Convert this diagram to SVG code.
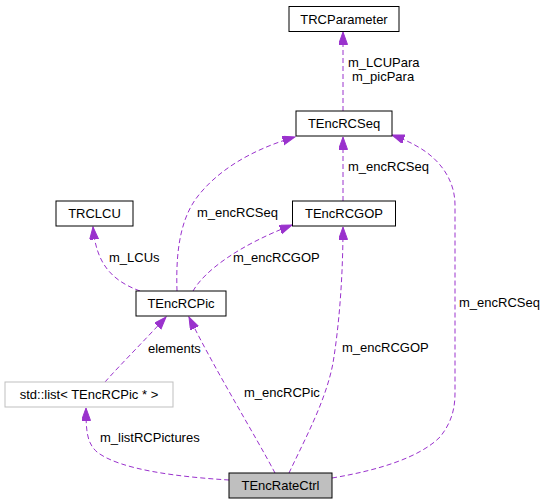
<svg xmlns="http://www.w3.org/2000/svg" width="547" height="504" viewBox="0 0 547 504">
<defs>
<style>
text{font-family:"Liberation Sans",Arial,sans-serif;font-size:13px;fill:#000}
.n{text-anchor:middle}
.box{fill:#fff;stroke:#000;stroke-width:1}
.e{fill:none;stroke:#9a32cd;stroke-width:1;stroke-dasharray:5,3;marker-end:url(#ah)}
</style>
<marker id="ah" markerUnits="userSpaceOnUse" markerWidth="14" markerHeight="11" refX="12.5" refY="4.5" orient="auto">
<path d="M0,0 L12.5,4.5 L0,9 z" fill="#9a32cd" stroke="#9a32cd"/>
</marker>
</defs>
<rect width="547" height="504" fill="#fff"/>
<g id="edges">
<path class="e" d="M343,111 L343,32"/>
<path class="e" d="M343,201 L343,137"/>
<path class="e" d="M177,291 C176,260 178,225 195,200 C215,172 250,150 295,137"/>
<path class="e" d="M193,291 C205,270 240,245 292,225"/>
<path class="e" d="M140,291 C110,280 96,262 93,227"/>
<path class="e" d="M105,382 C120,365 145,340 166,317"/>
<path class="e" d="M275,473 C255,435 215,370 189,317"/>
<path class="e" d="M289,473 C306,437 326,400 333,363 C340,320 343,270 343,227"/>
<path class="e" d="M332,478 C380,470 420,457 440,437 C452,422 455,408 455,393 L455,205 C455,180 440,160 420,148 C410,142 403,139 392,135"/>
<path class="e" d="M229,480 C180,477 120,470 97,452 C87,443 86,432 86,408"/>
</g>
<g id="labels">
<text x="348" y="67">m_LCUPara</text>
<text x="352" y="81">m_picPara</text>
<text x="348" y="171">m_encRCSeq</text>
<text x="197" y="217">m_encRCSeq</text>
<text x="233" y="262">m_encRCGOP</text>
<text x="109" y="262">m_LCUs</text>
<text x="148" y="353">elements</text>
<text x="244" y="397">m_encRCPic</text>
<text x="342" y="352">m_encRCGOP</text>
<text x="459" y="307">m_encRCSeq</text>
<text x="100" y="442">m_listRCPictures</text>
</g>
<g id="TRCParameter"><rect class="box" x="289" y="6.5" width="110" height="25"/><text class="n" x="344" y="23.5">TRCParameter</text></g>
<g id="TEncRCSeq"><rect class="box" x="296" y="111" width="96" height="25"/><text class="n" x="344" y="128">TEncRCSeq</text></g>
<g id="TEncRCGOP"><rect class="box" x="292.5" y="201" width="103" height="25"/><text class="n" x="344" y="218">TEncRCGOP</text></g>
<g id="TRCLCU"><rect class="box" x="56" y="201" width="77" height="25"/><text class="n" x="94.5" y="218">TRCLCU</text></g>
<g id="TEncRCPic"><rect class="box" x="136" y="291" width="90" height="25"/><text class="n" x="181" y="308">TEncRCPic</text></g>
<g id="stdlist"><rect x="5" y="382" width="168" height="25" fill="#fff" stroke="#bfbfbf"/><text class="n" x="89" y="399">std::list&lt; TEncRCPic * &gt;</text></g>
<g id="TEncRateCtrl"><rect x="229" y="473" width="103" height="25" fill="#bfbfbf" stroke="#000"/><text class="n" x="280.5" y="490">TEncRateCtrl</text></g>
</svg>
